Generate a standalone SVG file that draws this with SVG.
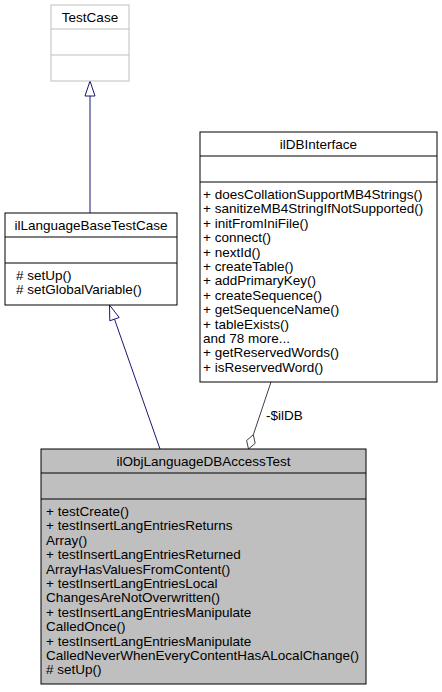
<svg xmlns="http://www.w3.org/2000/svg" width="442" height="692" viewBox="0 0 442 692">
<style>
text{font-family:"Liberation Sans",Arial,Helvetica,sans-serif;font-size:13.5px;fill:#000}
.c{text-anchor:middle}
.box{fill:#fff;stroke:#000;stroke-width:1}
.sep{stroke:#000;stroke-width:1}
.ext{fill:#fff;stroke:#bfbfbf;stroke-width:1}
.extsep{stroke:#bfbfbf;stroke-width:1}
.main{fill:#bfbfbf;stroke:#000;stroke-width:1}
.inh{stroke:#191970;stroke-width:1;fill:none}
.inhh{stroke:#191970;stroke-width:1;fill:#fff}
.agg{stroke:#404040;stroke-width:1;fill:none}
.aggh{stroke:#404040;stroke-width:1;fill:#fff}
</style>
<rect width="442" height="692" fill="#fff"/>
<g id="edges">
<line class="inh" x1="90" y1="213" x2="90" y2="96"/>
<polygon class="inhh" points="90,81 85,96 95,96"/>
<line class="inh" x1="160" y1="449" x2="114.5" y2="319.2"/>
<polygon class="inhh" points="109.5,305 119.2,317.5 109.8,320.8"/>
<line class="agg" x1="271" y1="382" x2="253.3" y2="434.8"/>
<polygon class="aggh" points="248.5,449 246.6,440.5 253.3,434.8 255.2,443.3"/>
<text x="266" y="419.5">-$ilDB</text>
</g>
<g id="TestCase">
<rect class="ext" x="51" y="5" width="78" height="76"/>
<line class="extsep" x1="51" y1="29" x2="129" y2="29"/>
<line class="extsep" x1="51" y1="55" x2="129" y2="55"/>
<text class="c" x="90" y="21.5">TestCase</text>
</g>
<g id="ilLanguageBaseTestCase">
<rect class="box" x="5" y="213" width="172" height="92"/>
<line class="sep" x1="5" y1="237" x2="177" y2="237"/>
<line class="sep" x1="5" y1="263" x2="177" y2="263"/>
<text class="c" x="91" y="229.5">ilLanguageBaseTestCase</text>
<text x="16" y="280">#&#160;setUp()</text>
<text x="16" y="294.4">#&#160;setGlobalVariable()</text>
</g>
<g id="ilDBInterface">
<rect class="box" x="200" y="132" width="237" height="250"/>
<line class="sep" x1="200" y1="156" x2="437" y2="156"/>
<line class="sep" x1="200" y1="182" x2="437" y2="182"/>
<text class="c" x="318.5" y="148.5">ilDBInterface</text>
<text x="203" y="199">+ doesCollationSupportMB4Strings()</text>
<text x="203" y="213.4">+ sanitizeMB4StringIfNotSupported()</text>
<text x="203" y="227.8">+ initFromIniFile()</text>
<text x="203" y="242.2">+ connect()</text>
<text x="203" y="256.6">+ nextId()</text>
<text x="203" y="271">+ createTable()</text>
<text x="203" y="285.4">+ addPrimaryKey()</text>
<text x="203" y="299.8">+ createSequence()</text>
<text x="203" y="314.2">+ getSequenceName()</text>
<text x="203" y="328.6">+ tableExists()</text>
<text x="203" y="343">and 78 more...</text>
<text x="203" y="357.4">+ getReservedWords()</text>
<text x="203" y="371.8">+ isReservedWord()</text>
</g>
<g id="ilObjLanguageDBAccessTest">
<rect class="main" x="41" y="449" width="325" height="235"/>
<line class="sep" x1="41" y1="473" x2="366" y2="473"/>
<line class="sep" x1="41" y1="499" x2="366" y2="499"/>
<text class="c" x="203.5" y="465.5">ilObjLanguageDBAccessTest</text>
<text x="46" y="516">+ testCreate()</text>
<text x="46" y="530.4">+ testInsertLangEntriesReturns</text>
<text x="46" y="544.8">Array()</text>
<text x="46" y="559.2">+ testInsertLangEntriesReturned</text>
<text x="46" y="573.6">ArrayHasValuesFromContent()</text>
<text x="46" y="588">+ testInsertLangEntriesLocal</text>
<text x="46" y="602.4">ChangesAreNotOverwritten()</text>
<text x="46" y="616.8">+ testInsertLangEntriesManipulate</text>
<text x="46" y="631.2">CalledOnce()</text>
<text x="46" y="645.6">+ testInsertLangEntriesManipulate</text>
<text x="46" y="660">CalledNeverWhenEveryContentHasALocalChange()</text>
<text x="46" y="674.4">#&#160;setUp()</text>
</g>
</svg>
